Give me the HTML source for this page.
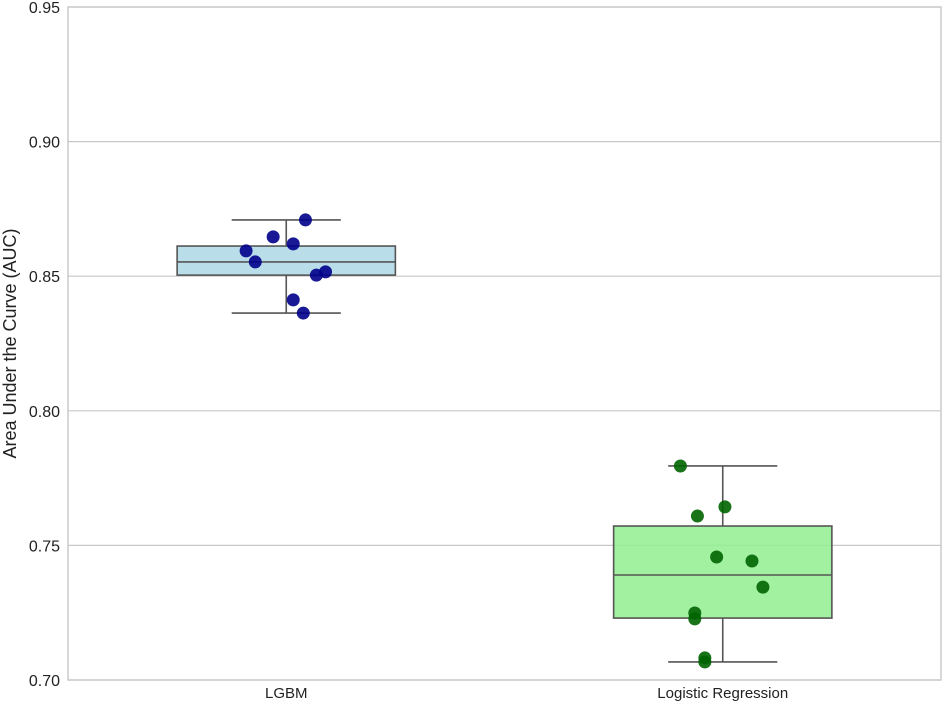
<!DOCTYPE html>
<html><head><meta charset="utf-8"><style>
body{margin:0;background:#fff;}
svg text{font-family:"Liberation Sans",sans-serif;fill:#222;}
</style></head><body>
<svg id="chart" width="944" height="705" xmlns="http://www.w3.org/2000/svg"></svg>
<script>
const categories = ["LGBM", "Logistic Regression"];
const yTicks = [0.70, 0.75, 0.80, 0.85, 0.90, 0.95];
const yTickLabels = ["0.70", "0.75", "0.80", "0.85", "0.90", "0.95"];
const lgbmValues = [0.8709, 0.8646, 0.8620, 0.8594, 0.8553, 0.8516, 0.8504, 0.8412, 0.8363];
const lgbmJitter = [0.044, -0.030, 0.016, -0.092, -0.071, 0.090, 0.069, 0.016, 0.039];
const lrValues = [0.7795, 0.7643, 0.7609, 0.7457, 0.7442, 0.7345, 0.7249, 0.7227, 0.7082, 0.7067];
const lrJitter = [-0.097, 0.005, -0.058, -0.014, 0.067, 0.092, -0.064, -0.064, -0.041, -0.041];
// box stats: [whiskerLow, q1, median, q3, whiskerHigh]
const lgbmStats = [0.8363, 0.8504, 0.8553, 0.8612, 0.8709];
const lrStats = [0.7067, 0.7230, 0.7390, 0.7572, 0.7795];

const svg = document.getElementById('chart');
const NS = 'http://www.w3.org/2000/svg';
const L = 68, R = 941, T = 7, B = 680;
const yMin = 0.70, yMax = 0.95;
const y = v => B - (v - yMin) / (yMax - yMin) * (B - T);
const band = (R - L) / categories.length;
const x = i => L + band * (i + 0.5);
function el(tag, attrs, parent) {
  const e = document.createElementNS(NS, tag);
  for (const k in attrs) e.setAttribute(k, attrs[k]);
  (parent || svg).appendChild(e);
  return e;
}
// grid
yTicks.forEach((t, i) => {
  const g = el('line', {x1: L, x2: R, y1: y(t), y2: y(t), stroke: '#c8c8c8', 'stroke-width': 1.2});
  
  
  const tx = el('text', {x: L - 8, y: y(t) + 6, 'text-anchor': 'end', 'font-size': 16});
  tx.textContent = yTickLabels[i];
  
  
});
const frame = el('rect', {x: L, y: T, width: R - L, height: B - T, fill: 'none', stroke: '#c8c8c8', 'stroke-width': 1.4});


const yt = el('text', {x: 16, y: (T + B) / 2, 'text-anchor': 'middle', 'font-size': 18, transform: 'rotate(-90 16 ' + (T + B) / 2 + ')'});
yt.textContent = 'Area Under the Curve (AUC)';



const boxW = band * 0.5, capW = band * 0.25;
const groups = [
  {stats: lgbmStats, vals: lgbmValues, jit: lgbmJitter, fill: '#add8e6', dot: '#00008b'},
  {stats: lrStats, vals: lrValues, jit: lrJitter, fill: '#90ee90', dot: '#006400'}
];
groups.forEach((g, i) => {
  const cx = x(i), s = g.stats;
  const grp = el('g', {});
  
  
  const st = {stroke: '#555', 'stroke-width': 1.6};
  el('line', Object.assign({x1: cx, x2: cx, y1: y(s[0]), y2: y(s[1])}, st), grp);
  el('line', Object.assign({x1: cx, x2: cx, y1: y(s[3]), y2: y(s[4])}, st), grp);
  el('line', Object.assign({x1: cx - capW / 2, x2: cx + capW / 2, y1: y(s[0]), y2: y(s[0])}, st), grp);
  el('line', Object.assign({x1: cx - capW / 2, x2: cx + capW / 2, y1: y(s[4]), y2: y(s[4])}, st), grp);
  el('rect', Object.assign({x: cx - boxW / 2, y: y(s[3]), width: boxW, height: y(s[1]) - y(s[3]), fill: g.fill, 'fill-opacity': 0.85}, st), grp);
  el('line', Object.assign({x1: cx - boxW / 2, x2: cx + boxW / 2, y1: y(s[2]), y2: y(s[2])}, st), grp);
  g.vals.forEach((v, j) => {
    const c = el('circle', {cx: cx + g.jit[j] * band, cy: y(v), r: 6.5, fill: g.dot, 'fill-opacity': 0.9});
    
    
  });
  const lab = el('text', {x: cx, y: B + 18, 'text-anchor': 'middle', 'font-size': 15});
  lab.textContent = categories[i];
  
  
});
</script>
</body></html>
